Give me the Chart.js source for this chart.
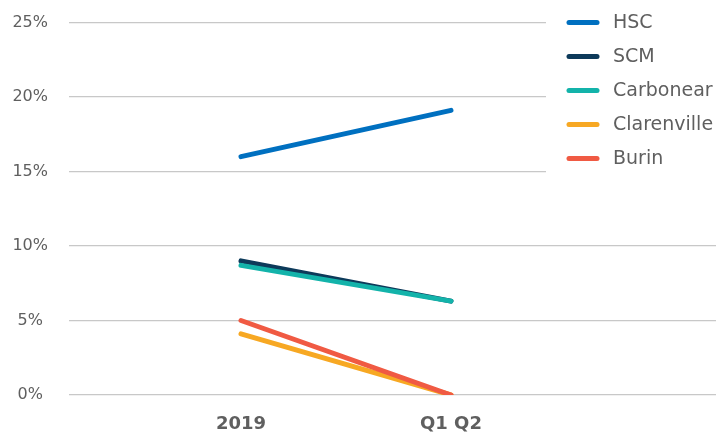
<!DOCTYPE html>
<html>
<head>
<meta charset="utf-8">
<script src="https://cdn.jsdelivr.net/npm/chart.js@4"></script>
<style>
  html, body { margin: 0; padding: 0; background: #fff; }
  #wrap { width: 716px; height: 436px; }
</style>
</head>
<body>
<div id="wrap"><canvas id="chart"></canvas></div>
<script>
const categories = ['2019', 'Q1 Q2']
const seriesNames = ['HSC', 'SCM', 'Carbonear', 'Clarenville', 'Burin']
const hsc = [16.0, 19.1]
const scm = [9.0, 6.3]
const carbonear = [8.7, 6.3]
const clarenville = [4.1, 0]
const burin = [5.0, 0]
const yTicks = [0, 5, 10, 15, 20, 25]

const colors = ['#0070c0', '#0d3a5a', '#13b3aa', '#f7a823', '#f05a43']
const values = [hsc, scm, carbonear, clarenville, burin]
const textGray = '#5f5f5f'

// legend drawn on top of the plot, with a white box hiding the grid behind it
const legendBox = {
  id: 'legendBox',
  beforeDatasetsDraw(chart) {
    const ctx = chart.ctx
    ctx.save()
    ctx.fillStyle = '#fff'
    ctx.fillRect(546, 0, 170, 185)
    ctx.restore()
  },
  afterDraw(chart) {
    const ctx = chart.ctx
    ctx.save()
    ctx.font = '19px "DejaVu Sans"'
    ctx.textBaseline = 'middle'
    seriesNames.forEach((name, i) => {
      const y = 22.5 + i * 34
      ctx.strokeStyle = colors[i]
      ctx.lineWidth = 5
      ctx.lineCap = 'round'
      ctx.beginPath()
      ctx.moveTo(569, y)
      ctx.lineTo(597, y)
      ctx.stroke()
      ctx.fillStyle = textGray
      ctx.fillText(name, 613, y + 1)
    })
    ctx.restore()
  }
}

new Chart(document.getElementById('chart'), {
  type: 'line',
  data: {
    datasets: seriesNames.map((name, i) => ({
      label: name,
      data: values[i].map((v, j) => ({ x: j, y: v })),
      borderColor: colors[i],
      backgroundColor: colors[i],
      borderWidth: 5,
      borderCapStyle: 'round',
      pointRadius: 0,
      tension: 0
    })).reverse()
  },
  options: {
    responsive: true,
    maintainAspectRatio: false,
    animation: false,
    layout: { padding: { top: 22.5, left: 12, right: 0, bottom: 0 } },
    plugins: {
      legend: { display: false },
      tooltip: { enabled: false }
    },
    scales: {
      x: {
        type: 'linear',
        min: -0.819,
        max: 2.262,
        grid: { display: false, drawTicks: false },
        border: { display: false },
        afterBuildTicks: (scale) => {
          scale.ticks = categories.map((c, i) => ({ value: i }))
        },
        afterFit: (scale) => {
          scale.height = 41
          scale.paddingLeft = 0
          scale.paddingRight = 0
        },
        ticks: {
          padding: 19,
          color: textGray,
          font: { family: '"DejaVu Sans"', size: 18, weight: 'bold' },
          callback: (v) => categories[v] ?? ''
        }
      },
      y: {
        min: 0,
        max: 25,
        afterBuildTicks: (scale) => {
          scale.ticks = yTicks.map(v => ({ value: v }))
        },
        afterFit: (scale) => {
          scale.width = 57
          scale.paddingTop = 0
          scale.paddingBottom = 0
        },
        grid: { color: '#c8c8c8', lineWidth: 1.3, drawTicks: false },
        border: { display: false },
        ticks: {
          padding: 21,
          crossAlign: 'center',
          color: textGray,
          font: { family: '"DejaVu Sans"', size: 16 },
          callback: (v) => v + '%'
        }
      }
    }
  },
  plugins: [legendBox]
})
</script>
</body>
</html>
